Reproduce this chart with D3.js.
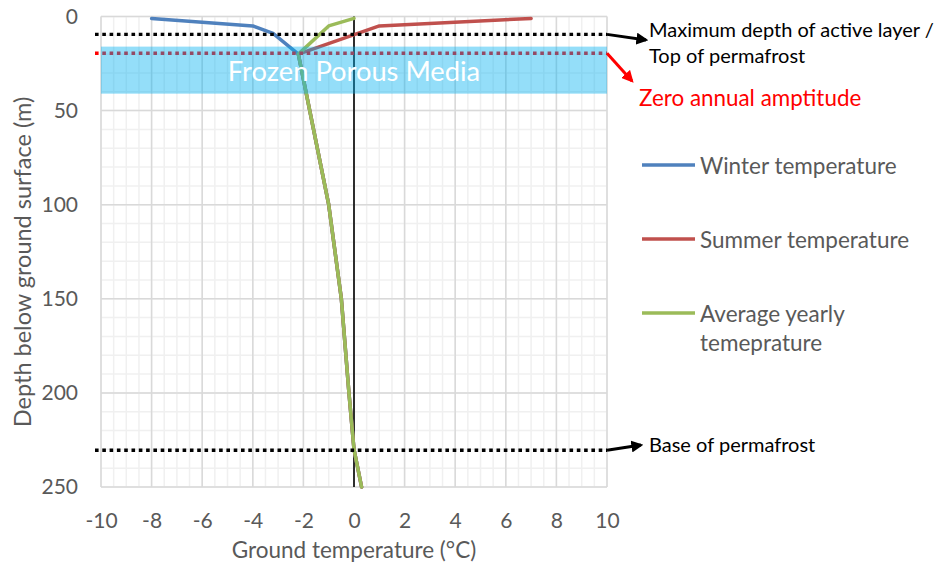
<!DOCTYPE html>
<html>
<head>
<meta charset="utf-8">
<script src="https://cdn.jsdelivr.net/npm/d3@7"></script>
<style>
  body { margin: 0; background: #fff; }
  svg { display: block; }
  text { font-family: Lato, "Open Sans", sans-serif; }
</style>
</head>
<body>
<svg id="chart" width="937" height="565"></svg>
<script>
// Ground temperature profiles (depth in m, temperature in °C)
const winterDepth  = [1, 5, 9, 20, 100, 150, 200, 230, 250];
const winterTemp   = [-8, -4, -3.2, -2.2, -1, -0.5, -0.2, 0, 0.3];
const summerDepth  = [1, 5, 20, 100, 150, 200, 230, 250];
const summerTemp   = [7, 1, -2.2, -1, -0.5, -0.2, 0, 0.3];
const averageDepth = [1, 5, 20, 100, 150, 200, 230, 250];
const averageTemp  = [0, -1, -2.2, -1, -0.5, -0.2, 0, 0.3];

const seriesNames = ["Winter temperature", "Summer temperature", "Average yearly temeprature"];
const xTicks = [-10, -8, -6, -4, -2, 0, 2, 4, 6, 8, 10];
const yTicks = [0, 50, 100, 150, 200, 250];

// Reference depths (m)
const activeLayerDepth = 9.5;
const zeroAmplitudeDepth = 19.5;
const permafrostBaseDepth = 230.5;
const frozenTop = 16, frozenBottom = 41;

const svg = d3.select("#chart");
const x = d3.scaleLinear().domain([-10, 10]).range([101, 607]);
const y = d3.scaleLinear().domain([0, 250]).range([16.5, 487]);

const labelGrey = "#595959";
const colors = ["#4f81bd", "#c0504d", "#9bbb59"];
const fontStack = "Lato, 'Open Sans', sans-serif";

// Grid: minor then major
const grid = svg.append("g");
grid.selectAll(".vminor").data(d3.range(-10, 10.01, 0.5)).join("line")
  .attr("x1", d => x(d)).attr("x2", d => x(d)).attr("y1", y(0)).attr("y2", y(250))
  .attr("stroke", "#f0f0f0").attr("stroke-width", 1.5);
grid.selectAll(".hminor").data(d3.range(0, 250.01, 10)).join("line")
  .attr("y1", d => y(d)).attr("y2", d => y(d)).attr("x1", x(-10)).attr("x2", x(10))
  .attr("stroke", "#f0f0f0").attr("stroke-width", 1.5);
grid.selectAll(".vmajor").data(xTicks).join("line")
  .attr("x1", d => x(d)).attr("x2", d => x(d)).attr("y1", y(0)).attr("y2", y(250))
  .attr("stroke", "#d9d9d9").attr("stroke-width", 1.5);
grid.selectAll(".hmajor").data(yTicks).join("line")
  .attr("y1", d => y(d)).attr("y2", d => y(d)).attr("x1", x(-10)).attr("x2", x(10))
  .attr("stroke", "#d9d9d9").attr("stroke-width", 1.5);

// Vertical axis line at 0 °C
svg.append("line")
  .attr("x1", x(0)).attr("x2", x(0)).attr("y1", y(0)).attr("y2", y(250))
  .attr("stroke", "#000").attr("stroke-width", 1.6);

// Axes labels
const yAxis = d3.axisLeft(y).tickValues(yTicks).tickSize(0).tickPadding(23)
  .tickFormat(d => String(d));
svg.append("g").attr("transform", `translate(${x(-10)},0)`).call(yAxis)
  .call(g => g.select(".domain").remove())
  .call(g => g.selectAll("text").attr("fill", labelGrey).style("font-size", "21px")
    .style("font-family", fontStack));

const xAxis = d3.axisBottom(x).tickValues(xTicks).tickSize(0).tickFormat(d => String(d));
svg.append("g").attr("transform", `translate(0,${y(250)})`).call(xAxis)
  .call(g => g.select(".domain").remove())
  .call(g => g.selectAll("text").attr("fill", labelGrey).attr("y", 34).attr("dy", "0.35em")
    .style("font-size", "21px").style("font-family", fontStack));

// Profiles
const line = d3.line().x(d => x(d[0])).y(d => y(d[1]));
const series = [
  d3.zip(winterTemp, winterDepth),
  d3.zip(summerTemp, summerDepth),
  d3.zip(averageTemp, averageDepth)
];
svg.append("g").selectAll("path").data(series).join("path")
  .attr("d", line).attr("fill", "none")
  .attr("stroke", (d, i) => colors[i]).attr("stroke-width", 3.5)
  .attr("stroke-linejoin", "round").attr("stroke-linecap", "round");

// Dotted reference lines
function dotted(depth, color) {
  svg.append("line")
    .attr("x1", 95).attr("x2", x(10)).attr("y1", y(depth)).attr("y2", y(depth))
    .attr("stroke", color).attr("stroke-width", 3.4).attr("stroke-dasharray", "3.6,3.7");
}
dotted(activeLayerDepth, "#000");
dotted(zeroAmplitudeDepth, "#ff0000");
dotted(permafrostBaseDepth, "#000");

// Frozen layer band
svg.append("rect")
  .attr("x", x(-10)).attr("width", x(10) - x(-10))
  .attr("y", y(frozenTop)).attr("height", y(frozenBottom) - y(frozenTop))
  .attr("fill", "rgb(0,176,240)").attr("fill-opacity", 0.42);
svg.append("text")
  .attr("x", x(0)).attr("y", (y(frozenTop) + y(frozenBottom)) / 2)
  .attr("text-anchor", "middle").attr("dominant-baseline", "central")
  .attr("fill", "#fff").style("font-size", "27.3px")
  .text("Frozen Porous Media");

// Arrows
const defs = svg.append("defs");
[["arrBlack", "#000"], ["arrRed", "#ff0000"]].forEach(([id, c]) => {
  defs.append("marker").attr("id", id).attr("viewBox", "0 0 10 10")
    .attr("refX", 8).attr("refY", 5).attr("markerWidth", 4).attr("markerHeight", 4)
    .attr("markerUnits", "strokeWidth").attr("orient", "auto")
    .append("path").attr("d", "M0,0 L10,5 L0,10 Z").attr("fill", c);
});
function arrow(x1, y1, x2, y2, color, id) {
  svg.append("line").attr("x1", x1).attr("y1", y1).attr("x2", x2).attr("y2", y2)
    .attr("stroke", color).attr("stroke-width", 3).attr("marker-end", `url(#${id})`);
}
arrow(x(10), y(activeLayerDepth), 646, 40, "#000", "arrBlack");
arrow(x(10), y(zeroAmplitudeDepth), 632, 81, "#ff0000", "arrRed");
arrow(x(10), y(permafrostBaseDepth), 641, 445, "#000", "arrBlack");

// Annotation texts
function note(tx, ty, str, color, size) {
  svg.append("text").attr("x", tx).attr("y", ty).attr("dominant-baseline", "central")
    .attr("fill", color).style("font-size", size + "px").text(str);
}
note(649, 29, "Maximum depth of active layer /", "#000", 20);
note(649, 55, "Top of permafrost", "#000", 20);
note(639, 97, "Zero annual amptitude", "#ff0000", 22.4);
note(649, 444, "Base of permafrost", "#000", 20);

// Legend
const legendY = [165, 239, 313];
const legend = svg.append("g");
legend.selectAll("line").data(seriesNames).join("line")
  .attr("x1", 642).attr("x2", 695).attr("y1", (d, i) => legendY[i]).attr("y2", (d, i) => legendY[i])
  .attr("stroke", (d, i) => colors[i]).attr("stroke-width", 3.5);
legend.selectAll("text").data(seriesNames).join("text")
  .attr("x", 700).attr("y", (d, i) => legendY[i]).attr("dominant-baseline", "central")
  .attr("fill", labelGrey).style("font-size", "22.5px")
  .each(function(d) {
    const t = d3.select(this);
    const words = d === seriesNames[2] ? ["Average yearly", "temeprature"] : [d];
    words.forEach((w, k) => t.append("tspan").attr("x", 700).attr("dy", k ? 29 : 0).text(w));
  });

// Axis titles
svg.append("text").attr("x", x(0)).attr("y", 549).attr("text-anchor", "middle")
  .attr("dominant-baseline", "central").attr("fill", labelGrey).style("font-size", "22.5px")
  .text("Ground temperature (°C)");
svg.append("text").attr("transform", "translate(22,262) rotate(-90)")
  .attr("text-anchor", "middle").attr("dominant-baseline", "central")
  .attr("fill", labelGrey).style("font-size", "23.5px")
  .text("Depth below ground surface (m)");
</script>
</body>
</html>
